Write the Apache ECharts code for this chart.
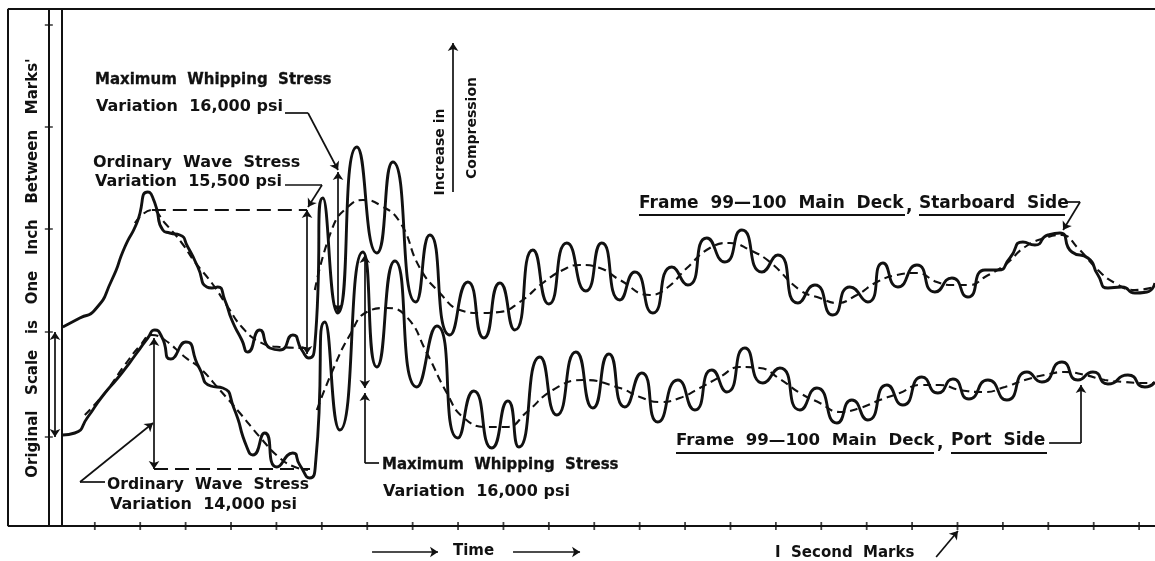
<!DOCTYPE html>
<html>
<head>
<meta charset="utf-8">
<script src="https://cdn.jsdelivr.net/npm/echarts@6/dist/echarts.min.js"></script>
<style>
html,body{margin:0;padding:0;background:#fff;}
#chart{width:1155px;height:561px;}
</style>
</head>
<body>
<div id="chart"></div>
<script>
// Time in seconds (1-second marks), deflection in tenths of an inch of the original record
const tickSeconds = [0,1,2,3,4,5,6,7,8,9,10,11,12,13,14,15,16,17,18,19,20,21,22,23];
const scaleMarks = [50.1, 39.9, 29.7, 19.4, 8.9];

const starboardTrace = [
[-0.705,19.9],[-0.33,20.8],[0,21.6],[0.374,24.6],[0.661,27.9],[0.925,30.3],[1.167,33.4],[1.322,32.3],[1.498,29.6],[1.652,29.3],[1.872,29.1],[2.048,27.9],[2.269,25.9],[2.467,23.9],[2.577,23.8],[2.709,23.9],[2.863,22.6],[3.018,20.6],[3.238,18.6],[3.370,17.4],[3.634,19.6],[3.855,17.8],[4.075,17.6],[4.361,19.1],[4.559,17.6],[4.714,16.8],[4.846,18.1],[5.022,32.8],[5.352,21.3],[5.771,37.9],[6.211,27.3],[6.564,36.4],[7.070,22.4],[7.379,29.1],[7.819,19.1],[8.216,24.4],[8.568,18.8],[8.921,24.3],[9.251,19.6],[9.648,27.6],[10.000,22.2],[10.396,28.3],[10.815,23.5],[11.167,28.3],[11.564,22.6],[11.894,25.4],[12.291,21.3],[12.709,25.9],[13.062,24.1],[13.480,28.8],[13.877,26.4],[14.251,29.6],[14.692,25.4],[15.044,27.1],[15.485,22.3],[15.859,24.1],[16.256,21.1],[16.630,23.9],[17.026,22.4],[17.357,26.3],[17.687,23.9],[18.106,26.1],[18.502,23.4],[18.877,24.8],[19.229,22.9],[19.604,25.6],[19.890,25.6],[20.154,26.8],[20.441,28.4],[20.705,28.1],[20.991,29.1],[21.256,29.3],[21.520,27.4],[21.872,26.8],[22.093,25.1],[22.313,23.8],[22.621,23.9],[22.907,23.3],[23.172,23.4],[23.348,24.3]
];
const portTrace = [
[-0.705,9.1],[-0.441,9.3],[-0.154,10.9],[0.154,12.9],[0.595,15.3],[0.925,17.3],[1.167,18.8],[1.322,19.6],[1.476,18.9],[1.674,16.7],[2.004,18.4],[2.291,15.9],[2.555,14.0],[2.819,13.8],[3.062,11.8],[3.348,7.9],[3.480,7.1],[3.744,9.3],[4.009,5.9],[4.361,7.3],[4.515,6.1],[4.736,4.8],[4.868,6.6],[5.066,20.4],[5.396,9.6],[5.903,27.4],[6.211,15.9],[6.608,26.5],[7.093,13.9],[7.533,20.0],[7.996,8.8],[8.348,13.5],[8.744,7.8],[9.097,12.5],[9.339,7.9],[9.802,16.9],[10.176,11.1],[10.595,17.4],[10.969,11.8],[11.322,17.2],[11.674,11.9],[12.048,15.3],[12.401,10.4],[12.841,14.6],[13.216,11.6],[13.590,15.6],[13.921,13.4],[14.317,17.8],[14.714,14.3],[15.088,15.8],[15.529,11.6],[15.903,13.8],[16.344,10.3],[16.674,12.6],[17.026,10.6],[17.445,14.1],[17.797,12.1],[18.216,14.9],[18.568,13.3],[18.899,14.7],[19.251,12.7],[19.670,14.6],[20.088,12.6],[20.529,15.4],[20.859,14.4],[21.300,16.4],[21.652,14.6],[21.982,15.4],[22.313,14.2],[22.753,15.1],[23.128,13.9],[23.348,14.4]
];
const starboardMeanWave = [
[0.881,30.3],[1.256,31.6],[1.542,30.3],[1.916,28.3],[2.203,26.4],[2.577,24.3],[2.930,21.9],[3.238,19.9],[3.634,18.4],[4.075,17.9],[4.670,17.8]
];
const starboardMeanWhip = [
[4.846,23.6],[5.242,29.9],[5.573,31.9],[5.903,32.6],[6.278,32.1],[6.718,30.4],[7.159,25.8],[7.599,23.3],[8.040,21.6],[8.480,21.3],[8.921,21.4],[9.361,22.4],[9.868,24.3],[10.308,25.6],[10.683,26.1],[11.123,25.8],[11.564,24.6],[12.225,23.1],[12.599,23.8],[13.040,25.8],[13.546,27.8],[13.987,28.3],[14.427,27.6],[14.868,26.4],[15.529,23.6],[15.969,22.8],[16.344,22.3],[16.784,23.1],[17.225,24.4],[17.665,25.1],[18.106,25.3],[18.546,24.4],[18.899,24.1],[19.273,24.1],[19.604,24.9],[20.044,26.1],[20.485,27.9],[20.925,28.8],[21.300,29.1],[21.652,27.8],[22.093,25.6],[22.467,24.3],[22.907,23.6],[23.348,23.9]
];
const portMeanWave = [
[-0.220,11.1],[0.220,13.3],[0.661,16.1],[0.991,18.0],[1.256,19.1],[1.542,18.6],[1.982,16.9],[2.313,15.8],[2.753,13.6],[3.194,11.3],[3.634,8.9],[4.075,6.8],[4.405,5.9],[4.692,5.6]
];
const portMeanWhip = [
[4.890,11.6],[5.242,15.6],[5.617,19.1],[5.991,21.4],[6.432,21.8],[6.872,20.9],[7.313,17.3],[7.753,13.3],[8.106,10.9],[8.634,9.9],[9.075,9.9],[9.515,11.4],[10.088,13.6],[10.749,14.6],[11.564,13.8],[12.004,12.9],[12.445,12.4],[12.885,12.8],[13.326,13.8],[13.767,14.9],[14.207,15.9],[14.648,15.8],[15.088,14.7],[15.529,13.3],[15.969,12.3],[16.410,11.4],[16.850,11.8],[17.291,12.6],[17.731,13.3],[18.172,14.1],[18.612,14.1],[19.053,13.6],[19.604,13.4],[20.044,13.9],[20.485,14.6],[20.925,15.1],[21.366,15.4],[21.806,15.1],[22.247,14.6],[22.687,14.4],[23.128,14.3],[23.348,14.3]
];
// reference levels of the ordinary wave stress variations
const starboardWaveLevel = [[1.256,31.6],[4.674,31.6]];
const portWaveLevel = [[1.304,5.7],[4.740,5.7]];
// frame of the record
const frameLines = [
  [[-1.916,51.7],[23.35,51.7]],
  [[-1.916,51.7],[-1.916,0]],
  [[-1.013,51.7],[-1.013,0]],
  [[-0.727,51.7],[-0.727,0]],
  [[-1.916,0],[23.35,0]]
];
// leader lines and arrows
const plainLeaders = [
  [[4.189,41.3],[4.696,41.3]],
  [[4.189,34.1],[5.004,34.1]],
  [[6.26,6.3],[5.947,6.3]],
  [[0.225,4.4],[-0.326,4.4]],
  [[21.392,32.4],[21.70,32.4]],
  [[21.018,8.3],[21.72,8.3]]
];
const arrowLeaders = [
  [[4.696,41.3],[5.357,35.6]],
  [[5.004,34.1],[4.696,31.9]],
  [[5.947,6.3],[5.947,13.3]],
  [[-0.326,4.4],[1.282,10.3]],
  [[7.89,33.4],[7.89,48.3]],
  [[21.70,32.4],[21.326,29.6]],
  [[21.72,8.3],[21.72,14.1]],
  [[6.106,-2.6],[7.559,-2.6]],
  [[9.211,-2.6],[10.687,-2.6]],
  [[18.53,-3.1],[19.01,-0.5]]
];
const doubleArrows = [
  [[5.357,35.4],[5.357,21.4]],
  [[4.674,31.6],[4.674,17.2]],
  [[5.947,27.1],[5.947,13.8]],
  [[1.304,18.8],[1.304,5.7]],
  [[-0.877,19.4],[-0.877,8.9]]
];

const ink = '#111';
const chart = echarts.init(document.getElementById('chart'), null, {renderer:'canvas'});
const F = '"DejaVu Sans", sans-serif';
function txt(x, y, s, opt) {
  opt = opt || {};
  return {type:'text', x:x, y:y, rotation: opt.rot || 0, z:100,
    style:{text:s, font:'bold ' + (opt.size||15) + 'px ' + F, fill:ink,
      stroke: opt.heavy ? ink : null, lineWidth: opt.heavy ? 0.3 : 0,
      textAlign: opt.align || 'left', textVerticalAlign:'middle'}};
}
function uline(x1, x2, y) {
  return {type:'line', z:100, shape:{x1:x1, y1:y, x2:x2, y2:y}, style:{stroke:ink, lineWidth:2}};
}
function segs(list) { return list.map(c => ({coords:c})); }

const traceStyle = {color:ink, width:2.9};
const meanStyle = {color:ink, width:2.1, type:[8,5]};

chart.setOption({
  animation:false,
  backgroundColor:'#fff',
  grid:{left:4, right:0, top:0, bottom:0},
  xAxis:{type:'value', min:-2, max:23.35, axisLine:{show:false},
    axisTick:{show:false}, axisLabel:{show:false}, splitLine:{show:false}},
  yAxis:{type:'value', min:-3.5, max:52.6, show:false, splitLine:{show:false}},
  series:[
    {type:'line', name:'Starboard', data:starboardTrace, smooth:0.65, showSymbol:false, lineStyle:traceStyle},
    {type:'line', name:'Port', data:portTrace, smooth:0.65, showSymbol:false, lineStyle:traceStyle},
    {type:'line', data:starboardMeanWave, smooth:0.5, showSymbol:false, lineStyle:meanStyle},
    {type:'line', data:starboardMeanWhip, smooth:0.5, showSymbol:false, lineStyle:meanStyle},
    {type:'line', data:portMeanWave, smooth:0.5, showSymbol:false, lineStyle:meanStyle},
    {type:'line', data:portMeanWhip, smooth:0.5, showSymbol:false, lineStyle:meanStyle},
    {type:'line', data:starboardWaveLevel, showSymbol:false, lineStyle:{color:ink, width:2, type:[14,7]}},
    {type:'line', data:portWaveLevel, showSymbol:false, lineStyle:{color:ink, width:2, type:[14,7]}},
    {type:'lines', coordinateSystem:'cartesian2d', data:segs(frameLines), symbol:'none', lineStyle:{color:ink, width:2, opacity:1}},
    {type:'lines', coordinateSystem:'cartesian2d', data:segs(plainLeaders), symbol:'none', lineStyle:{color:ink, width:1.7, opacity:1}},
    {type:'lines', coordinateSystem:'cartesian2d', data:segs(arrowLeaders), symbol:['none','arrow'], symbolSize:8, lineStyle:{color:ink, width:1.7, opacity:1}},
    {type:'lines', coordinateSystem:'cartesian2d', data:segs(doubleArrows), symbol:['arrow','arrow'], symbolSize:8, lineStyle:{color:ink, width:1.7, opacity:1}},
    {type:'scatter', data:tickSeconds.map(t => [t,0]), symbol:'rect', symbolSize:[1.8,8], itemStyle:{color:ink}},
    {type:'scatter', data:scaleMarks.map(v => [-1.013,v]), symbol:'rect', symbolSize:[8,1.6], itemStyle:{color:ink}}
  ],
  graphic:[
    txt(95, 80, 'Maximum  Whipping  Stress', {size:15, heavy:true}),
    txt(96, 107, 'Variation  16,000 psi', {size:16}),
    txt(93, 163, 'Ordinary  Wave  Stress', {size:16}),
    txt(95, 182, 'Variation  15,500 psi', {size:16}),
    txt(440, 152, 'Increase in', {size:14, rot:Math.PI/2, align:'center'}),
    txt(472, 128, 'Compression', {size:14, rot:Math.PI/2, align:'center'}),
    txt(33, 268, 'Original   Scale   is   One   Inch   Between   Marks\'', {size:15, rot:Math.PI/2, align:'center'}),
    txt(639, 204, 'Frame  99\u2014100  Main  Deck', {size:17}),
    txt(906, 207, ',', {size:17}),
    txt(919, 204, 'Starboard  Side', {size:17}),
    uline(639, 905, 215), uline(919, 1065, 215),
    txt(676, 441, 'Frame  99\u2014100  Main  Deck', {size:16.6}),
    txt(937, 444, ',', {size:17}),
    txt(951, 441, 'Port  Side', {size:17}),
    uline(676, 934, 453), uline(951, 1047, 453),
    txt(382, 465, 'Maximum  Whipping  Stress', {size:15, heavy:true}),
    txt(383, 492, 'Variation  16,000 psi', {size:16}),
    txt(107, 485, 'Ordinary  Wave  Stress', {size:15.6}),
    txt(110, 505, 'Variation  14,000 psi', {size:16}),
    txt(453, 551, 'Time', {size:15}),
    txt(775, 553, 'I  Second  Marks', {size:15})
  ]
});
</script>
</body>
</html>
